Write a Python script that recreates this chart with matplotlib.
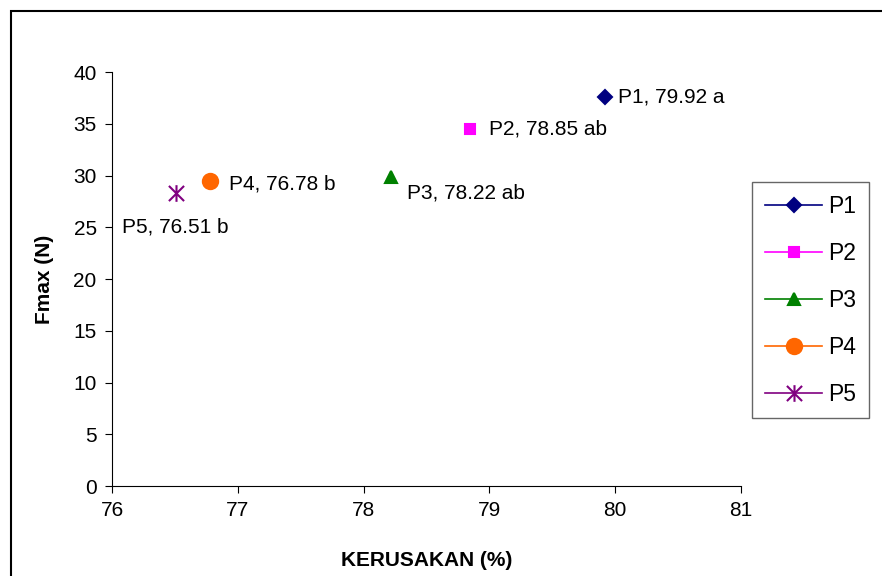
import matplotlib
matplotlib.use('Agg')
import matplotlib.pyplot as plt
from matplotlib.patches import Rectangle
from matplotlib.path import Path

plt.rcParams['font.family'] = ['Liberation Sans', 'DejaVu Sans']

# data
names = ['P1', 'P2', 'P3', 'P4', 'P5']
kerusakan = [79.92, 78.85, 78.22, 76.78, 76.51]
fmax = [37.6, 34.5, 29.9, 29.5, 28.3]
notes = ['a', 'ab', 'ab', 'b', 'b']

# excel style asterisk: an X plus a vertical bar
star = Path([(-1, -1), (1, 1), (-1, 1), (1, -1), (0, -1.1), (0, 1.1)],
            [Path.MOVETO, Path.LINETO, Path.MOVETO, Path.LINETO,
             Path.MOVETO, Path.LINETO])

colors = ['#000080', '#FF00FF', '#008000', '#FF6600', '#800080']
markers = ['D', 's', '^', 'o', star]
msizes = [7, 7, 9, 11, 12]
# label offsets in pixels
offsets = [(13, 0), (19, 0), (16, -16), (19, -3), (-54, -34)]

fig = plt.figure(figsize=(8.82, 5.76), dpi=100)
ax = fig.add_axes([0.127, 0.156, 0.713, 0.719])

for i in range(len(names)):
    ax.plot([kerusakan[i]], [fmax[i]], marker=markers[i], color=colors[i],
            markersize=msizes[i], markeredgewidth=1.5, linestyle='-',
            linewidth=1.2, label=names[i])
    ax.annotate('%s, %.2f %s' % (names[i], kerusakan[i], notes[i]),
                (kerusakan[i], fmax[i]), xytext=offsets[i],
                textcoords='offset pixels', ha='left', va='center',
                fontsize=15)

ax.set_xlim(76, 81)
ax.set_ylim(0, 40)
ax.set_xticks([76, 77, 78, 79, 80, 81])
ax.set_yticks(range(0, 41, 5))
ax.spines['top'].set_visible(False)
ax.spines['right'].set_visible(False)
ax.tick_params(direction='out', length=5, labelsize=15, pad=6)

label_font = ['Liberation Sans Narrow', 'Liberation Sans', 'DejaVu Sans']
ax.set_xlabel('KERUSAKAN (%)', fontsize=15, fontweight='bold', family=label_font, labelpad=22)
ax.set_ylabel('Fmax (N)', fontsize=15, fontweight='bold', family=label_font, labelpad=14)

leg = ax.legend(loc='upper left', bbox_to_anchor=(0.853, 0.684),
                bbox_transform=fig.transFigure, borderaxespad=0,
                fontsize=16.5, labelspacing=1.05, handlelength=2.5,
                handletextpad=0.25, fancybox=False, frameon=True,
                borderpad=0.55)
leg.get_frame().set_edgecolor('#404040')
leg.get_frame().set_linewidth(1.0)

# outer chart frame
fig.patches.append(Rectangle((11 / 882, -0.1), 1.2, 1 - 11 / 576 + 0.1,
                             transform=fig.transFigure, fill=False,
                             edgecolor='black', linewidth=1.5))

fig.savefig('out.png', dpi=100)
